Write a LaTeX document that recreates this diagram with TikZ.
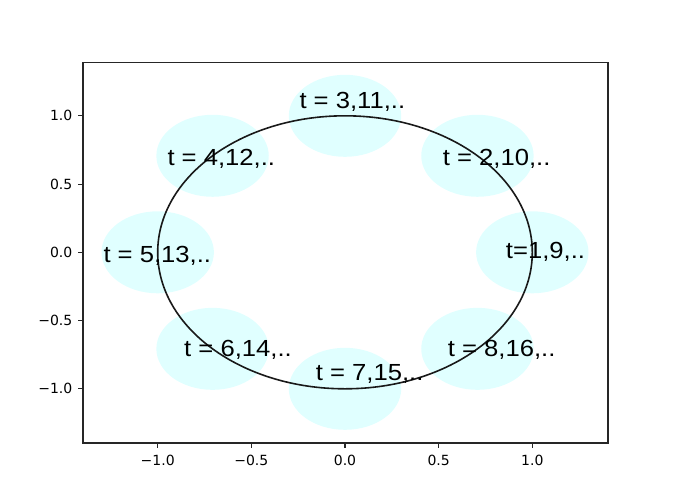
\documentclass[tikz,border=0pt]{standalone}
\usepackage{fontspec}
\setmainfont{Liberation Sans}
\newfontfamily\tickfont{DejaVu Sans}
\definecolor{lcyan}{HTML}{E0FFFF}
\tikzset{
  lbl/.style={anchor=base west, inner sep=0pt, font=\fontsize{23.3}{28}\selectfont},
  ytick/.style={anchor=east, inner sep=0pt, font=\tickfont\fontsize{14}{16}\selectfont},
  xtick/.style={anchor=north, inner sep=0pt, font=\tickfont\fontsize{14}{16}\selectfont},
  spot/.style={fill=lcyan},
  tickln/.style={line width=1.1pt, black!85},
}
\newcommand{\wlbl}[1]{\scalebox{1.1}[1]{#1}}
\begin{document}
\begin{tikzpicture}[x=1pt,y=-1pt]
\useasboundingbox (0,0) rectangle (676,496);
% shaded discs
\foreach \k in {0,...,7}{
  \fill[spot] ({345+187.3*cos(45*\k)},{252.3-136.5*sin(45*\k)}) ellipse [x radius=56.2, y radius=41];
}
% main circle
\draw[line width=1.6pt, black!90] (345,252.3) ellipse [x radius=187.3, y radius=136.5];
% labels
\node[lbl] (l1) at (505.7,258.3) {\wlbl{t=1,9,..}};
\node[lbl] (l2) at (442.7,165) {\wlbl{t = 2,10,..}};
\node[lbl] (l3) at (299.3,108.3) {\wlbl{t = 3,11,..}};
\node[lbl] (l4) at (167.3,165) {\wlbl{t = 4,12,..}};
\node[lbl] (l5) at (103.3,262.3) {\wlbl{t = 5,13,..}};
\node[lbl] (l6) at (184,356) {\wlbl{t = 6,14,..}};
\node[lbl] (l7) at (315.7,380.7) {\wlbl{t = 7,15,..}};
\node[lbl] (l8) at (447.7,356) {\wlbl{t = 8,16,..}};
% frame
\draw[tickln] (83,62.3) rectangle (608,443);
% y ticks
\foreach \yy/\tx [count=\i] in {115.8/1.0, 184.05/0.5, 252.3/0.0, 320.55/−0.5, 388.8/−1.0}{
  \draw[tickln] (83,\yy) -- (78,\yy);
  \node[ytick] (yt\i) at (72.5,\yy) {\tx};
}
% x ticks
\foreach \xx/\tx [count=\i] in {157.7/−1.0, 251.35/−0.5, 345/0.0, 438.65/0.5, 532.3/1.0}{
  \draw[tickln] (\xx,443) -- (\xx,448);
  \node[xtick] (xt\i) at (\xx,454.5) {\tx};
}
\end{tikzpicture}
\end{document}
